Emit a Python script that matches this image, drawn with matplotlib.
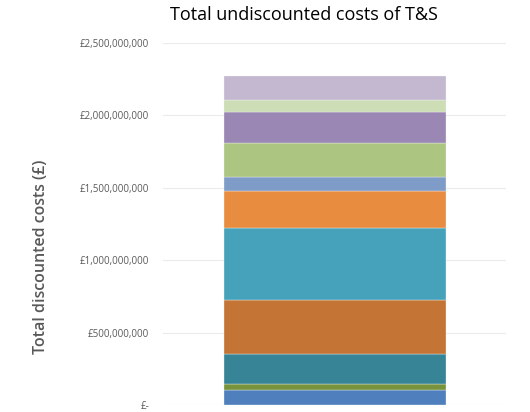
import numpy as np
import matplotlib
matplotlib.use('Agg')
import matplotlib.pyplot as plt
from matplotlib.ticker import FuncFormatter

# cost components, stacked bottom to top (GBP)
components = ['Component 1', 'Component 2', 'Component 3', 'Component 4', 'Component 5',
              'Component 6', 'Component 7', 'Component 8', 'Component 9', 'Component 10',
              'Component 11']
costs = [103e6, 41e6, 211e6, 371e6, 497e6, 252e6, 100e6, 231e6, 218e6, 82e6, 165e6]
colours = ['#4F80BD', '#77933C', '#388497', '#C47535', '#46A2BA', '#E88D40',
           '#7F9CC8', '#ACC682', '#9A87B3', '#CDDDB6', '#C3B8D0']
y_ticks = [0, 500e6, 1000e6, 1500e6, 2000e6, 2500e6]

plt.rcParams['font.family'] = ['Open Sans', 'DejaVu Sans']

fig = plt.figure(figsize=(5.3, 4.12), dpi=100)
# plot area: y=0 at ~405px, y=2.5bn at ~43px
ax = fig.add_axes([0.3075, 0.017, 0.6475, 0.8786])

bottom = 0
for name, val, col in zip(components, costs, colours):
    ax.bar(0, val, width=0.647, bottom=bottom, color=col, edgecolor='#F4F4F4',
           linewidth=0.25, label=name, zorder=3)
    bottom += val

ax.set_xlim(-0.5, 0.5)
ax.set_ylim(0, 2.5e9)
ax.set_yticks(y_ticks)


def gbp(v, pos):
    if v == 0:
        return '£-'
    return '£{:,.0f}'.format(v)


ax.yaxis.set_major_formatter(FuncFormatter(gbp))
ax.tick_params(axis='y', length=0, labelsize=7, labelcolor='#595959', pad=10)
ax.set_xticks([])
ax.grid(axis='y', color='#EBEBEB', linewidth=0.8, zorder=0)
for s in ax.spines.values():
    s.set_visible(False)

fig.text(304 / 530, 1 - 15 / 412, 'Total undiscounted costs of T&S', ha='center', va='center',
         fontsize=13, color='#000000')
fig.text(41 / 530, 1 - 257 / 412, 'Total discounted costs (£)', rotation=90, ha='center',
         va='center', fontsize=11.5, color='#595959', fontweight='semibold')

fig.savefig('out.png', dpi=100)
